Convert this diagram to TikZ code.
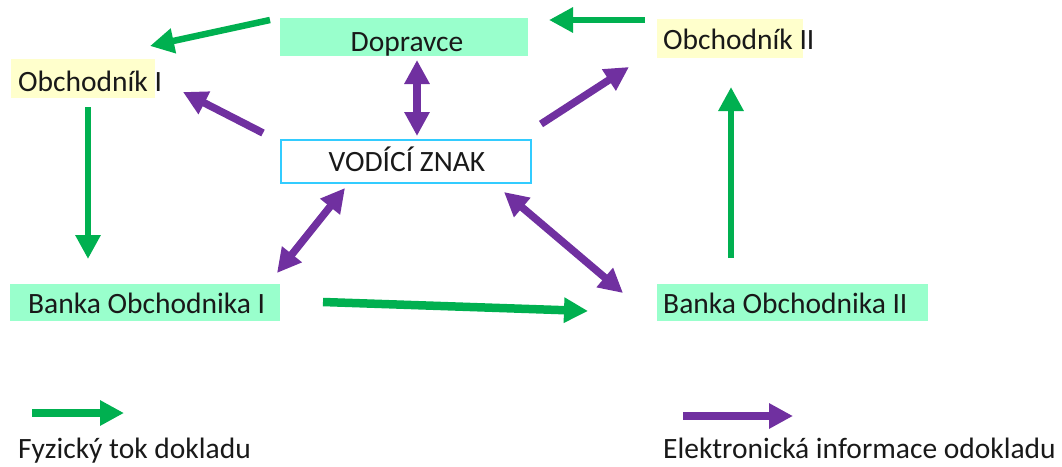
\documentclass[tikz,border=0pt]{standalone}
\usepackage{fontspec}
\setmainfont{Carlito}
\usetikzlibrary{arrows.meta}
\definecolor{agreen}{HTML}{00B050}
\definecolor{apurple}{HTML}{7030A0}
\definecolor{mint}{HTML}{99FFCC}
\definecolor{lyellow}{HTML}{FFFFCC}
\definecolor{cyanb}{HTML}{33CCFF}
\begin{document}
\begin{tikzpicture}[x=1pt,y=-1pt,
  txt/.style={font=\fontsize{29.5}{32}\selectfont, text=black!90, inner sep=0pt, anchor=base west},
  fillbox/.style={inner sep=0pt},
  vzbox/.style={draw=cyanb, line width=2.5pt, inner sep=0pt},
  gflow/.style={draw=agreen, line width=6.5pt, -{Triangle[length=24pt,width=24pt]}},
  gflowb/.style={draw=agreen, line width=8.5pt, -{Triangle[length=24pt,width=24pt]}},
  pflow/.style={draw=apurple, line width=7.5pt, -{Triangle[length=24pt,width=24pt]}},
  pflow2/.style={draw=apurple, line width=7.5pt, {Triangle[length=24pt,width=24pt]}-{Triangle[length=24pt,width=24pt]}},
]
\useasboundingbox (0,0) rectangle (1062,466);
% boxes
\node[fillbox, fill=mint, minimum width=248pt, minimum height=38pt] (dopb) at (404,37) {};
\node[fillbox, fill=lyellow, minimum width=144pt, minimum height=39pt] (ob1b) at (83,78.5) {};
\node[fillbox, fill=lyellow, minimum width=146pt, minimum height=39pt] (ob2b) at (730,38.5) {};
\node[vzbox, minimum width=250pt, minimum height=43pt] (vz) at (406,161.5) {};
\node[fillbox, fill=mint, minimum width=270pt, minimum height=37pt] (b1b) at (145,302.5) {};
\node[fillbox, fill=mint, minimum width=271pt, minimum height=37pt] (b2b) at (792,302.5) {};
% texts
\node[txt, anchor=base] (dop) at (407,51) {Dopravce};
\node[txt] (ob1) at (18,91) {Obchodník I};
\node[txt] (ob2) at (663,49) {Obchodník II};
\node[txt, anchor=base] (vzt) at (407,171.5) {VODÍCÍ ZNAK};
\node[txt] (b1) at (28,313) {Banka Obchodnika I};
\node[txt] (b2) at (663,313) {Banka Obchodnika II};
% legend
\node[txt] (lg1) at (18,458) {Fyzický tok dokladu};
\node[txt] (lg2) at (663,458) {Elektronická informace odokladu};
% coordinates for connector ends
\coordinate (g1s) at (270,20); \coordinate (g1e) at (150,46);
\coordinate (g2s) at (645,20); \coordinate (g2e) at (549,20);
\coordinate (g3s) at (88,107); \coordinate (g3e) at (88,259);
\coordinate (g4s) at (731,258); \coordinate (g4e) at (731,87);
\coordinate (g5s) at (323,302); \coordinate (g5e) at (588,311);
\coordinate (lgs) at (32,413); \coordinate (lge) at (124,413);
\coordinate (p1s) at (263,133); \coordinate (p1e) at (183,92);
\coordinate (p2s) at (417,60); \coordinate (p2e) at (417,136);
\coordinate (p3s) at (541,124); \coordinate (p3e) at (629,67);
\coordinate (p4s) at (345,188); \coordinate (p4e) at (277,273);
\coordinate (p5s) at (504,192); \coordinate (p5e) at (623,293);
\coordinate (lps) at (683,416); \coordinate (lpe) at (793,416);
% green
\draw[gflow] (g1s) -- (g1e);
\draw[gflow] (g2s) -- (g2e);
\draw[gflow] (g3s) -- (g3e);
\draw[gflow] (g4s) -- (g4e);
\draw[gflowb] (g5s) -- (g5e);
\draw[gflowb] (lgs) -- (lge);
% purple
\draw[pflow] (p1s) -- (p1e);
\draw[pflow2] (p2s) -- (p2e);
\draw[pflow] (p3s) -- (p3e);
\draw[pflow2] (p4s) -- (p4e);
\draw[pflow2] (p5s) -- (p5e);
\draw[pflow] (lps) -- (lpe);
\end{tikzpicture}
\end{document}
